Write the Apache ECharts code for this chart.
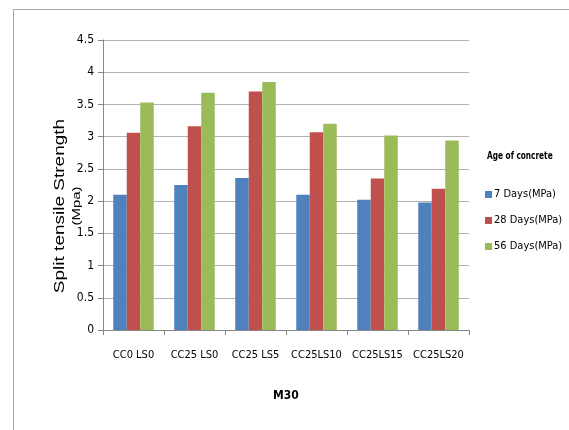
<!DOCTYPE html>
<html>
<head>
<meta charset="utf-8">
<script src="https://cdn.jsdelivr.net/npm/echarts@6/dist/echarts.min.js"></script>
<style>
  html, body { margin: 0; padding: 0; background: #fff; }
  #chart { width: 569px; height: 430px; }
</style>
</head>
<body>
<div id="chart"></div>
<script>
// Split tensile strength of M30 mixes at three curing ages
const mixes = ['CC0 LS0', 'CC25 LS0', 'CC25 LS5', 'CC25LS10', 'CC25LS15', 'CC25LS20'];
const days7 = [2.10, 2.25, 2.36, 2.10, 2.02, 1.98];
const days28 = [3.06, 3.16, 3.70, 3.07, 2.35, 2.19];
const days56 = [3.53, 3.68, 3.85, 3.20, 3.02, 2.94];
const seriesNames = ['7 Days(MPa)', '28 Days(MPa)', '56 Days(MPa)'];
const colors = ['#4F81BD', '#C0504D', '#9BBB59'];
const yTitle = ['Split tensile Strength', '(Mpa)'];
const legendTitle = 'Age of concrete';

const narrow = '"Liberation Sans Narrow", "DejaVu Sans Condensed", "Liberation Sans", sans-serif';
const wide = '"Liberation Sans", Arial, sans-serif';

function barSeries(name, data, color) {
  return {
    name: name,
    type: 'bar',
    data: data,
    barWidth: 13.5,
    barGap: '0%',
    itemStyle: { color: color },
    emphasis: { disabled: true }
  };
}

const chart = echarts.init(document.getElementById('chart'), null, { renderer: 'canvas' });
chart.setOption({
  animation: false,
  color: colors,
  textStyle: { fontFamily: narrow },
  grid: { left: 103, right: 100, top: 40, bottom: 100, containLabel: false },
  legend: {
    orient: 'vertical',
    left: 480, top: 184,
    itemWidth: 7, itemHeight: 7,
    itemGap: 15,
    icon: 'rect',
    textStyle: { fontFamily: narrow, fontSize: 11, color: '#000', padding: [0, 0, 0, -3] },
    data: seriesNames
  },
  xAxis: {
    type: 'category',
    data: mixes,
    name: 'M30',
    nameLocation: 'middle',
    nameGap: 60,
    nameTextStyle: { fontFamily: narrow, fontSize: 12, fontWeight: 'bold', color: '#000' },
    axisLine: { lineStyle: { color: '#868686' } },
    axisTick: { show: true, length: 5, lineStyle: { color: '#868686' } },
    axisLabel: { margin: 20, fontSize: 11, color: '#000', interval: 0 }
  },
  yAxis: {
    type: 'value',
    min: 0, max: 4.5, interval: 0.5,
    axisLine: { show: true, lineStyle: { color: '#868686' } },
    axisTick: { show: true, length: 5, lineStyle: { color: '#868686' } },
    axisLabel: { margin: 9, fontSize: 12, color: '#000' },
    splitLine: { lineStyle: { color: '#b3b3b3' } }
  },
  graphic: [
    {
      type: 'rect',
      shape: { x: 13.5, y: 9.5, width: 600, height: 500 },
      style: { fill: 'none', stroke: '#a6a6a6', lineWidth: 1 },
      silent: true,
      z: -1
    },
    {
      // legend heading
      type: 'text',
      x: 487, y: 156,
      scaleX: 0.82,
      style: { text: legendTitle, font: 'bold 10px ' + narrow, fill: '#000', align: 'left', verticalAlign: 'middle' },
      silent: true
    },
    {
      // vertical value-axis title, main line
      type: 'text',
      x: 60, y: 206,
      rotation: Math.PI / 2,
      scaleY: 0.8,
      style: { text: yTitle[0], font: '19px ' + wide, fill: '#000', align: 'center', verticalAlign: 'middle' },
      silent: true
    },
    {
      // vertical value-axis title, unit line
      type: 'text',
      x: 77, y: 206,
      rotation: Math.PI / 2,
      scaleY: 0.75,
      style: { text: yTitle[1], font: '15px ' + wide, fill: '#000', align: 'center', verticalAlign: 'middle' },
      silent: true
    }
  ],
  series: [
    barSeries(seriesNames[0], days7, colors[0]),
    barSeries(seriesNames[1], days28, colors[1]),
    barSeries(seriesNames[2], days56, colors[2])
  ]
});
</script>
</body>
</html>
